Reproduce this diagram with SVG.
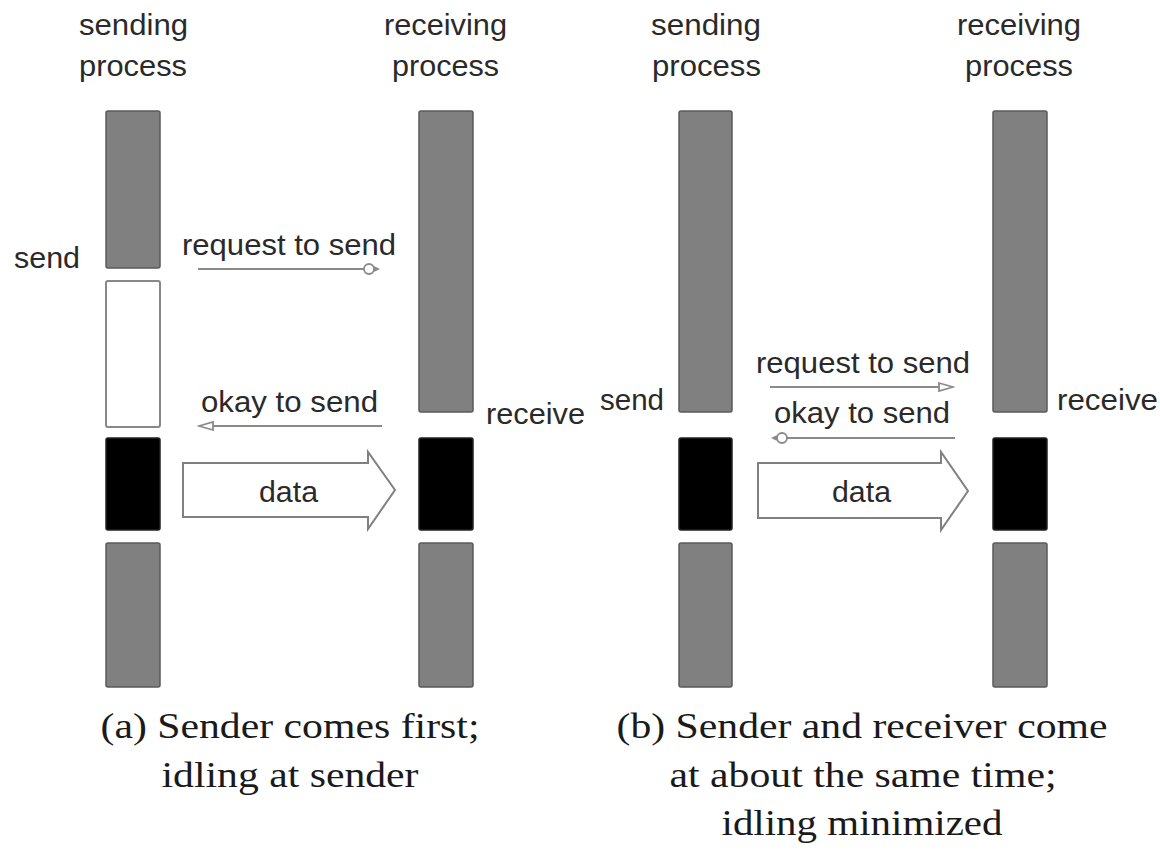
<svg xmlns="http://www.w3.org/2000/svg" width="1160" height="853" viewBox="0 0 1160 853">
<style>
.bg{fill:#fff}
.gray{fill:#808080;stroke:#5a5a5a;stroke-width:1.5}
.blk{fill:#000;stroke:#222;stroke-width:1.5}
.wht{fill:#fff;stroke:#888;stroke-width:2}
.lbl{font-family:"Liberation Sans",Arial,sans-serif;font-size:29px;fill:#2a2a2a}
.cap{font-family:"Liberation Serif","Times New Roman",serif;font-size:35px;fill:#1a1a1a;text-anchor:middle}
.msg{stroke:#8a8a8a;stroke-width:2.2;fill:none}
.data{fill:#fff;stroke:#808080;stroke-width:2;stroke-linejoin:miter}
</style>
<defs>
<marker id="tri" markerUnits="userSpaceOnUse" markerWidth="18" markerHeight="12" refX="16" refY="6" orient="auto">
<path d="M2,2 L16,6 L2,10 Z" fill="#fff" stroke="#8a8a8a" stroke-width="1.8"/>
</marker>
<marker id="circ" markerUnits="userSpaceOnUse" markerWidth="20" markerHeight="14" refX="18" refY="7" orient="auto">
<circle cx="9" cy="7" r="5" fill="#fff" stroke="#8a8a8a" stroke-width="1.8"/>
<path d="M14,5 L18,7 L14,9" fill="none" stroke="#8a8a8a" stroke-width="1.8"/>
</marker>
</defs>
<rect class="bg" x="0" y="0" width="1160" height="853"/>

<g id="a-sender">
<text class="lbl" x="79" y="35" textLength="109" lengthAdjust="spacingAndGlyphs">sending</text>
<text class="lbl" x="79" y="76" textLength="108" lengthAdjust="spacingAndGlyphs">process</text>
<rect class="gray" x="106" y="111" width="54" height="157" rx="2"/>
<rect class="wht" x="106" y="281" width="54" height="146" rx="2"/>
<rect class="blk" x="106" y="438" width="54" height="92" rx="2"/>
<rect class="gray" x="106" y="543" width="54" height="144" rx="2"/>
<text class="lbl" x="14" y="268" textLength="66" lengthAdjust="spacingAndGlyphs">send</text>
</g>

<g id="a-receiver">
<text class="lbl" x="384" y="35" textLength="123" lengthAdjust="spacingAndGlyphs">receiving</text>
<text class="lbl" x="392" y="76" textLength="107" lengthAdjust="spacingAndGlyphs">process</text>
<rect class="gray" x="419" y="111" width="54" height="301" rx="2"/>
<rect class="blk" x="419" y="438" width="54" height="92" rx="2"/>
<rect class="gray" x="419" y="543" width="54" height="144" rx="2"/>
<text class="lbl" x="486" y="424" textLength="99" lengthAdjust="spacingAndGlyphs">receive</text>
</g>

<g id="b-sender">
<text class="lbl" x="651" y="35" textLength="110" lengthAdjust="spacingAndGlyphs">sending</text>
<text class="lbl" x="652" y="76" textLength="109" lengthAdjust="spacingAndGlyphs">process</text>
<rect class="gray" x="679" y="111" width="53" height="301" rx="2"/>
<rect class="blk" x="679" y="438" width="53" height="92" rx="2"/>
<rect class="gray" x="679" y="543" width="53" height="144" rx="2"/>
<text class="lbl" x="600" y="410" textLength="64" lengthAdjust="spacingAndGlyphs">send</text>
</g>

<g id="b-receiver">
<text class="lbl" x="957" y="35" textLength="124" lengthAdjust="spacingAndGlyphs">receiving</text>
<text class="lbl" x="965" y="76" textLength="108" lengthAdjust="spacingAndGlyphs">process</text>
<rect class="gray" x="993" y="111" width="54" height="301" rx="2"/>
<rect class="blk" x="993" y="438" width="54" height="92" rx="2"/>
<rect class="gray" x="993" y="543" width="54" height="144" rx="2"/>
<text class="lbl" x="1057" y="410" textLength="101" lengthAdjust="spacingAndGlyphs">receive</text>
</g>

<g id="connectors">
<line class="msg" x1="198" y1="269" x2="378" y2="269" marker-end="url(#circ)"/>
<text class="lbl" x="182" y="255" textLength="214" lengthAdjust="spacingAndGlyphs">request to send</text>
<line class="msg" x1="382" y1="426" x2="199" y2="426" marker-end="url(#tri)"/>
<text class="lbl" x="201" y="412" textLength="177" lengthAdjust="spacingAndGlyphs">okay to send</text>
<polygon class="data" points="183,463 368,463 368,452 395,490 368,529 368,517 183,517"/>
<text class="lbl" x="259" y="502" textLength="59" lengthAdjust="spacingAndGlyphs">data</text>

<line class="msg" x1="770" y1="387" x2="953" y2="387" marker-end="url(#tri)"/>
<text class="lbl" x="756" y="373" textLength="214" lengthAdjust="spacingAndGlyphs">request to send</text>
<line class="msg" x1="955" y1="438" x2="773" y2="438" marker-end="url(#circ)"/>
<text class="lbl" x="774" y="423" textLength="176" lengthAdjust="spacingAndGlyphs">okay to send</text>
<polygon class="data" points="758,463 941,463 941,452 968,491 941,530 941,518 758,518"/>
<text class="lbl" x="832" y="502" textLength="59" lengthAdjust="spacingAndGlyphs">data</text>
</g>

<g id="captions">
<text class="cap" x="290" y="738" textLength="379" lengthAdjust="spacingAndGlyphs">(a) Sender comes first;</text>
<text class="cap" x="290" y="787" textLength="257" lengthAdjust="spacingAndGlyphs">idling at sender</text>
<text class="cap" x="862" y="738" textLength="491" lengthAdjust="spacingAndGlyphs">(b) Sender and receiver come</text>
<text class="cap" x="863" y="787" textLength="387" lengthAdjust="spacingAndGlyphs">at about the same time;</text>
<text class="cap" x="862" y="835" textLength="281" lengthAdjust="spacingAndGlyphs">idling minimized</text>
</g>
</svg>
